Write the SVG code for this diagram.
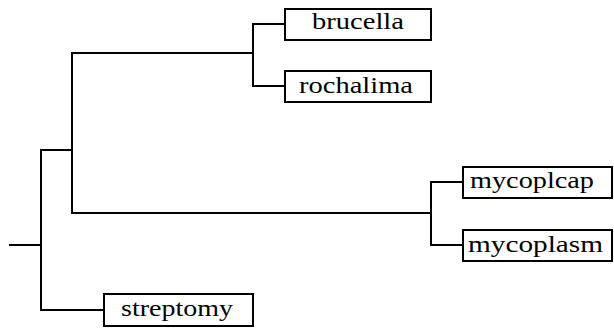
<svg xmlns="http://www.w3.org/2000/svg" width="614" height="331" viewBox="0 0 614 331">
<style>
.box{fill:#fff;stroke:#000;stroke-width:2}
.lbl{font-family:"Liberation Serif","DejaVu Serif",serif;font-size:23px;fill:#000}
.e{fill:none;stroke:#000;stroke-width:2;stroke-linecap:square}
.v{fill:none;stroke:#000;stroke-width:2}
</style>
<rect width="614" height="331" fill="#fff"/>
<g id="connectors">
<path class="e" d="M10 245H41"/>
<path class="v" d="M41 150V310"/>
<path class="e" d="M41 150H72"/>
<path class="e" d="M41 310H104"/>
<path class="v" d="M72 53V213"/>
<path class="e" d="M72 53H253"/>
<path class="e" d="M72 213H431"/>
<path class="v" d="M253 24V86"/>
<path class="e" d="M253 24H285"/>
<path class="e" d="M253 86H285"/>
<path class="v" d="M431 182V245"/>
<path class="e" d="M431 182H463"/>
<path class="e" d="M431 245H463"/>
</g>
<g id="brucella"><rect class="box" x="285" y="9" width="146" height="31"/><text class="lbl" x="312" y="29" textLength="92" lengthAdjust="spacingAndGlyphs">brucella</text></g>
<g id="rochalima"><rect class="box" x="285" y="71" width="146" height="31"/><text class="lbl" x="299" y="92.5" textLength="114" lengthAdjust="spacingAndGlyphs">rochalima</text></g>
<g id="mycoplcap"><rect class="box" x="463" y="167" width="149" height="31"/><text class="lbl" x="470" y="188" textLength="124" lengthAdjust="spacingAndGlyphs">mycoplcap</text></g>
<g id="mycoplasm"><rect class="box" x="463" y="230" width="149" height="31"/><text class="lbl" x="468" y="252" textLength="135" lengthAdjust="spacingAndGlyphs">mycoplasm</text></g>
<g id="streptomy"><rect class="box" x="104" y="294" width="149" height="32"/><text class="lbl" x="121" y="315.5" textLength="112" lengthAdjust="spacingAndGlyphs">streptomy</text></g>
</svg>
